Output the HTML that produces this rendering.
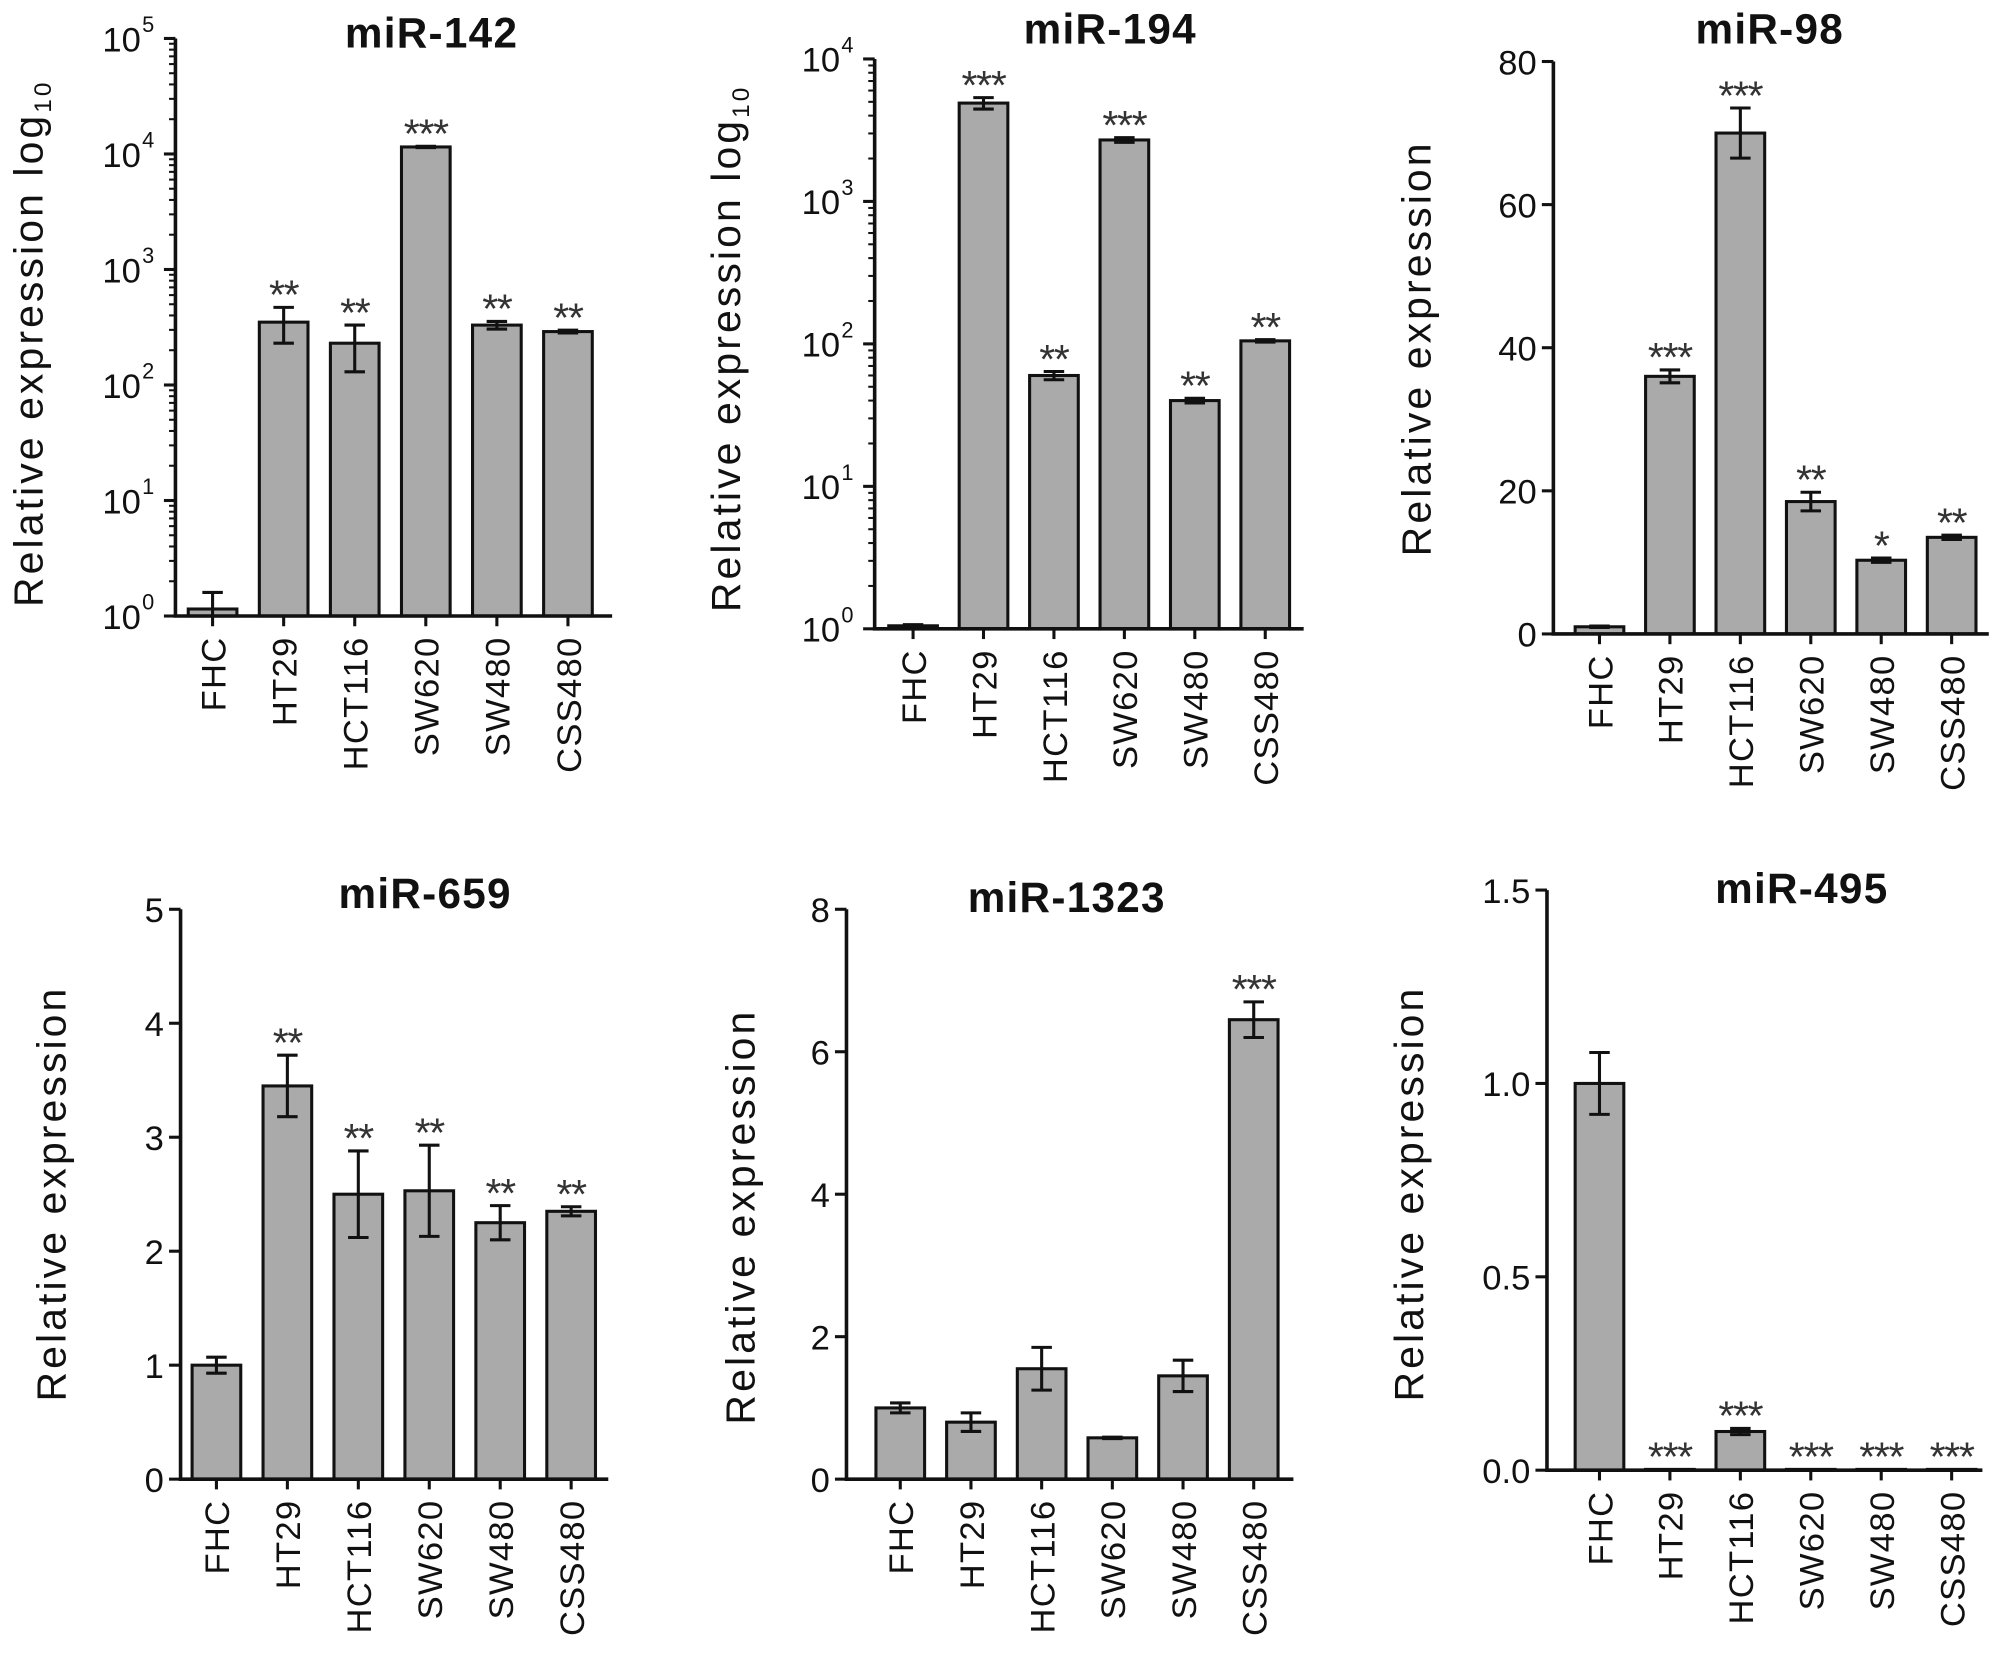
<!DOCTYPE html>
<html><head><meta charset="utf-8"><style>
html,body{margin:0;padding:0;background:#fff;}
svg{display:block;font-family:"Liberation Sans",Arial,sans-serif;}
</style></head><body>
<svg id="fig" width="2008" height="1670" viewBox="0 0 1568 1304" xmlns="http://www.w3.org/2000/svg"></svg>
<script>
const categories = ["FHC","HT29","HCT116","SW620","SW480","CSS480"];
const mir142Values = [1.15,350,230,11500,330,290];
const mir142Errors = [0.45,120,100,150,25,8];
const mir142Stars = ["","**","**","***","**","**"];
const mir194Values = [1.05,4900,60,2700,40,105];
const mir194Errors = [0.02,450,4,100,1.5,2];
const mir194Stars = ["","***","**","***","**","**"];
const mir98Values = [1,36,70,18.5,10.3,13.5];
const mir98Errors = [0.1,0.9,3.5,1.3,0.3,0.3];
const mir98Stars = ["","***","***","**","*","**"];
const mir98Ticks = [0,20,40,60,80];
const mir659Values = [1,3.45,2.5,2.53,2.25,2.35];
const mir659Errors = [0.07,0.27,0.38,0.4,0.15,0.04];
const mir659Stars = ["","**","**","**","**","**"];
const mir659Ticks = [0,1,2,3,4,5];
const mir1323Values = [1.0,0.8,1.55,0.58,1.45,6.45];
const mir1323Errors = [0.07,0.13,0.3,0.01,0.22,0.25];
const mir1323Stars = ["","","","","","***"];
const mir1323Ticks = [0,2,4,6,8];
const mir495Values = [1.0,0.002,0.1,0.002,0.002,0.002];
const mir495Errors = [0.08,0,0.008,0,0,0];
const mir495Stars = ["","***","***","***","***","***"];
const mir495Ticks = [0,0.5,1.0,1.5];
const mir495TickLabels = ["0.0","0.5","1.0","1.5"];
const logTicks = [0,1,2,3,4,5];

const NS="http://www.w3.org/2000/svg";
const svg=document.getElementById('fig');
function mk(tag,attrs,parent){const e=document.createElementNS(NS,tag);for(const k in attrs)e.setAttribute(k,attrs[k]);(parent||svg).appendChild(e);return e;}

function panel(o){
  const g=mk('g',{});
  
  
  const lo=o.log?0:o.min, hi=o.log?o.maxExp:o.max;
  const y=v=>{const t=o.log?Math.log10(Math.max(v,1)):v;return o.y0-(t-lo)/(hi-lo)*(o.y0-o.y1);};
  const xc=i=>o.bar0+o.pitch*i+19;
  o.values.forEach((v,i)=>{
    const top=y(v);
    const r=mk('rect',{x:xc(i)-19,y:top,width:38,height:Math.max(o.y0-top,0.5),fill:'#aaaaaa',stroke:'#111','stroke-width':2.4},g);
    
    
    const e=o.errors[i];
    if(e>0){
      const a=y(v+e),b=y(Math.max(v-e,o.log?1:0));
      const eb=mk('path',{d:`M${xc(i)} ${a}V${b}M${xc(i)-8} ${a}H${xc(i)+8}M${xc(i)-8} ${b}H${xc(i)+8}`,stroke:'#111','stroke-width':2.4,fill:'none'},g);
      
      
    }
    if(o.stars[i]){
      const st=mk('text',{x:xc(i),y:y(v+e)+1,'font-size':32,'text-anchor':'middle',fill:'#333','letter-spacing':-1},g);
      
      
      st.textContent=o.stars[i];
    }
    mk('line',{x1:xc(i),x2:xc(i),y1:o.y0,y2:o.y0+8,stroke:'#111','stroke-width':2.4},g);
    const cl=mk('text',{transform:`translate(${xc(i)+10},${o.y0+16}) rotate(-90)`,'font-size':27,'letter-spacing':1,'text-anchor':'end',fill:'#111'},g);
    
    
    cl.textContent=categories[i];
  });
  const ax=mk('path',{d:`M${o.ax} ${o.y1}V${o.y0}H${o.xEnd}`,stroke:'#111','stroke-width':2.8,fill:'none'},g);
  
  
  if(o.log){
    logTicks.filter(t=>t<=o.maxExp).forEach(t=>{
      const yy=y(Math.pow(10,t));
      mk('line',{x1:o.ax-9,x2:o.ax,y1:yy,y2:yy,stroke:'#111','stroke-width':2.4},g);
      const tl=mk('text',{x:o.ax-27,y:yy+10,'font-size':27,'text-anchor':'end',fill:'#111'},g);
      
      
      tl.textContent='10';
      const sp=mk('text',{x:o.ax-26,y:yy-5,'font-size':17,fill:'#111'},g);
      sp.textContent=String(t);
      if(t<o.maxExp){for(let m=2;m<10;m++){const ym=y(m*Math.pow(10,t));mk('line',{x1:o.ax-5,x2:o.ax,y1:ym,y2:ym,stroke:'#111','stroke-width':1.6},g);}}
    });
  } else {
    o.ticks.forEach((t,k)=>{
      const yy=y(t);
      mk('line',{x1:o.ax-9,x2:o.ax,y1:yy,y2:yy,stroke:'#111','stroke-width':2.4},g);
      const tl=mk('text',{x:o.ax-13,y:yy+10,'font-size':27,'text-anchor':'end',fill:'#111'},g);
      
      
      tl.textContent=o.tickLabels?o.tickLabels[k]:String(t);
    });
  }
  const ti=mk('text',{x:o.tx,y:o.ty+12,'font-size':33,'font-weight':'bold','letter-spacing':1,'text-anchor':'middle',fill:'#111'},g);
  
  
  ti.textContent=o.title;
  const yt=mk('text',{transform:`translate(${o.ytx+11},${o.yty}) rotate(-90)`,'font-size':32,'letter-spacing':2.4,'text-anchor':'middle',fill:'#111'},g);
  
  
  if(o.log){yt.textContent='Relative expression log';const s=mk('tspan',{'font-size':19,dy:7},yt);s.textContent='10';}
  else yt.textContent='Relative expression';
}

panel({name:'mir-142',title:'miR-142',log:true,maxExp:5,values:mir142Values,errors:mir142Errors,stars:mir142Stars,ax:137,xEnd:478,y0:481,y1:30,bar0:147,pitch:55.5,tx:337,ty:25,ytx:22,yty:268});
panel({name:'mir-194',title:'miR-194',log:true,maxExp:4,values:mir194Values,errors:mir194Errors,stars:mir194Stars,ax:683,xEnd:1018,y0:491,y1:46,bar0:694,pitch:55,tx:867,ty:22,ytx:567,yty:272});
panel({name:'mir-98',title:'miR-98',log:false,min:0,max:80,ticks:mir98Ticks,values:mir98Values,errors:mir98Errors,stars:mir98Stars,ax:1213,xEnd:1553,y0:495,y1:48,bar0:1230,pitch:55,tx:1382,ty:22,ytx:1106,yty:272});
panel({name:'mir-659',title:'miR-659',log:false,min:0,max:5,ticks:mir659Ticks,values:mir659Values,errors:mir659Errors,stars:mir659Stars,ax:141,xEnd:475,y0:1155,y1:710,bar0:150,pitch:55.4,tx:332,ty:697,ytx:40,yty:932});
panel({name:'mir-1323',title:'miR-1323',log:false,min:0,max:8,ticks:mir1323Ticks,values:mir1323Values,errors:mir1323Errors,stars:mir1323Stars,ax:661,xEnd:1010,y0:1155,y1:710,bar0:684,pitch:55.2,tx:833,ty:700,ytx:578,yty:950});
panel({name:'mir-495',title:'miR-495',log:false,min:0,max:1.5,ticks:mir495Ticks,tickLabels:mir495TickLabels,values:mir495Values,errors:mir495Errors,stars:mir495Stars,ax:1208,xEnd:1548,y0:1148,y1:695,bar0:1230,pitch:55,tx:1407,ty:693,ytx:1100,yty:932});
</script>
</body></html>
